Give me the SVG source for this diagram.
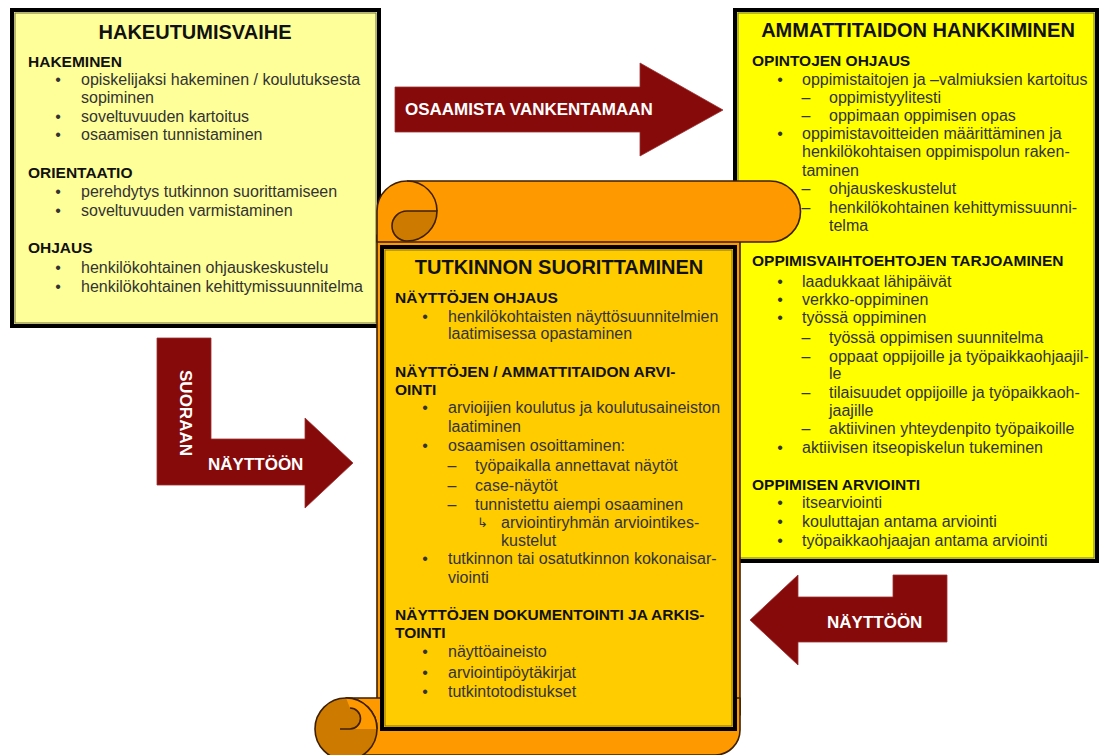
<svg xmlns="http://www.w3.org/2000/svg" width="1101" height="755" viewBox="0 0 1101 755">
<style>
text{font-family:"Liberation Sans",Arial,sans-serif}
.t{font-size:20px;font-weight:bold;fill:#111;text-anchor:middle}
.h{font-size:15.5px;font-weight:bold;fill:#111}
.b{font-size:16px;fill:#333}
.m{text-anchor:middle}
.g{font-family:"DejaVu Sans",sans-serif;font-size:13px;fill:#333}
.a{font-size:17px;font-weight:bold;fill:#fff}
.box{stroke:#000;stroke-width:4}
.inner{fill:none;stroke:#6f6f45;stroke-width:1}
.arrow{fill:#870a0a;stroke:#9a3030;stroke-width:0.8}
.scr{stroke:#3d1f00;stroke-width:1.6;stroke-linejoin:round}
</style>
<rect width="1101" height="755" fill="#fff"/>

<g id="hakeutumisvaihe">
<rect class="box" x="12" y="10" width="367" height="316" fill="#ffff99"/>
<rect class="inner" x="15" y="13" width="361" height="310"/>
<text class="t" x="195" y="39">HAKEUTUMISVAIHE</text>
<text class="h" x="28" y="67">HAKEMINEN</text>
<text class="b m" x="58" y="85">•</text><text class="b" x="81" y="85">opiskelijaksi hakeminen / koulutuksesta</text>
<text class="b" x="81" y="103">sopiminen</text>
<text class="b m" x="58" y="122">•</text><text class="b" x="81" y="122">soveltuvuuden kartoitus</text>
<text class="b m" x="58" y="140">•</text><text class="b" x="81" y="140">osaamisen tunnistaminen</text>
<text class="h" x="28" y="178">ORIENTAATIO</text>
<text class="b m" x="58" y="197">•</text><text class="b" x="81" y="197">perehdytys tutkinnon suorittamiseen</text>
<text class="b m" x="58" y="216">•</text><text class="b" x="81" y="216">soveltuvuuden varmistaminen</text>
<text class="h" x="28" y="253">OHJAUS</text>
<text class="b m" x="58" y="273">•</text><text class="b" x="81" y="273">henkilökohtainen ohjauskeskustelu</text>
<text class="b m" x="58" y="292">•</text><text class="b" x="81" y="292">henkilökohtainen kehittymissuunnitelma</text>
</g>

<g id="ammattitaidon-hankkiminen">
<rect class="box" x="735" y="10" width="362" height="551" fill="#ffff00"/>
<rect class="inner" x="738" y="13" width="356" height="545"/>
<text class="t" x="918" y="37">AMMATTITAIDON HANKKIMINEN</text>
<text class="h" x="752" y="66">OPINTOJEN OHJAUS</text>
<text class="b m" x="780" y="85">•</text><text class="b" x="802" y="85">oppimistaitojen ja –valmiuksien kartoitus</text>
<text class="b m" x="806" y="103">–</text><text class="b" x="829" y="103">oppimistyylitesti</text>
<text class="b m" x="806" y="121">–</text><text class="b" x="829" y="121">oppimaan oppimisen opas</text>
<text class="b m" x="780" y="139">•</text><text class="b" x="802" y="139">oppimistavoitteiden määrittäminen ja</text>
<text class="b" x="802" y="157">henkilökohtaisen oppimispolun raken-</text>
<text class="b" x="802" y="176">taminen</text>
<text class="b m" x="806" y="194">–</text><text class="b" x="829" y="194">ohjauskeskustelut</text>
<text class="b m" x="806" y="213">–</text><text class="b" x="829" y="213">henkilökohtainen kehittymissuunni-</text>
<text class="b" x="829" y="231">telma</text>
<text class="h" x="752" y="266">OPPIMISVAIHTOEHTOJEN TARJOAMINEN</text>
<text class="b m" x="780" y="287">•</text><text class="b" x="802" y="287">laadukkaat lähipäivät</text>
<text class="b m" x="780" y="305">•</text><text class="b" x="802" y="305">verkko-oppiminen</text>
<text class="b m" x="780" y="323">•</text><text class="b" x="802" y="323">työssä oppiminen</text>
<text class="b m" x="806" y="343">–</text><text class="b" x="829" y="343">työssä oppimisen suunnitelma</text>
<text class="b m" x="806" y="362">–</text><text class="b" x="829" y="362">oppaat oppijoille ja työpaikkaohjaajil-</text>
<text class="b" x="829" y="379">le</text>
<text class="b m" x="806" y="398">–</text><text class="b" x="829" y="398">tilaisuudet oppijoille ja työpaikkaoh-</text>
<text class="b" x="829" y="416">jaajille</text>
<text class="b m" x="806" y="434">–</text><text class="b" x="829" y="434">aktiivinen yhteydenpito työpaikoille</text>
<text class="b m" x="780" y="453">•</text><text class="b" x="802" y="453">aktiivisen itseopiskelun tukeminen</text>
<text class="h" x="752" y="490">OPPIMISEN ARVIOINTI</text>
<text class="b m" x="780" y="508">•</text><text class="b" x="802" y="508">itsearviointi</text>
<text class="b m" x="780" y="527">•</text><text class="b" x="802" y="527">kouluttajan antama arviointi</text>
<text class="b m" x="780" y="546">•</text><text class="b" x="802" y="546">työpaikkaohjaajan antama arviointi</text>
</g>

<g id="connectors">
<g id="arrow-osaamista">
<polygon class="arrow" points="395,87 640,87 640,63 723,110 640,156 640,132 395,132"/>
<text class="a" x="405" y="115">OSAAMISTA VANKENTAMAAN</text>
</g>
<g id="arrow-suoraan">
<polygon class="arrow" points="157,338 211,338 211,439 305,439 305,418 353,463 305,508 305,485 157,485"/>
<text class="a" text-anchor="middle" transform="translate(180,413) rotate(90)">SUORAAN</text>
<text class="a" x="208" y="470">NÄYTTÖÖN</text>
</g>
<g id="arrow-nayttoon">
<polygon class="arrow" points="750,620 798,575 798,597 893,597 893,575 947,575 947,642 798,642 798,665"/>
<text class="a" x="827" y="628">NÄYTTÖÖN</text>
</g>
</g>

<g id="tutkinnon-suorittaminen">
<rect class="scr" x="377" y="235" width="363" height="480" fill="#ff9900"/>
<path class="scr" d="M377,242 L377,211 A30,30 0 0 1 407,181 L770,181 A30.5,30.5 0 0 1 770,242 Z" fill="#ff9900"/>
<path class="scr" d="M407,181 A30,30 0 0 1 437,211" fill="none"/>
<path class="scr" d="M407,211 L437,211 A30,30 0 0 1 407,241 A15,15 0 0 1 407,211 Z" fill="#cc7a00"/>
<path class="scr" d="M346,698 H740 V730 A25,25 0 0 1 715,755 H346 Z" fill="#ff9900"/>
<circle class="scr" cx="346" cy="729" r="31" fill="#cc7a00"/>
<path d="M346,698 A31,31 0 0 1 377,729 L350,729 A10.5,10.5 0 0 0 350,708 Z" fill="#ff9900"/>
<path class="scr" d="M346,698 A31,31 0 0 1 377,729" fill="none"/>
<path class="scr" d="M340,729 L350,729 A10.5,10.5 0 0 0 350,708" fill="none"/>
<rect class="box" x="382" y="247" width="353" height="482" fill="#ffcc00"/>
<rect class="inner" x="385" y="250" width="347" height="476" style="stroke:#8a6a00"/>
<text class="t" x="559" y="274">TUTKINNON SUORITTAMINEN</text>
<text class="h" x="395" y="303">NÄYTTÖJEN OHJAUS</text>
<text class="b m" x="425" y="322">•</text><text class="b" x="448" y="322">henkilökohtaisten näyttösuunnitelmien</text>
<text class="b" x="448" y="339">laatimisessa opastaminen</text>
<text class="h" x="395" y="377">NÄYTTÖJEN / AMMATTITAIDON ARVI-</text>
<text class="h" x="395" y="395">OINTI</text>
<text class="b m" x="425" y="413">•</text><text class="b" x="448" y="413">arvioijien koulutus ja koulutusaineiston</text>
<text class="b" x="448" y="432">laatiminen</text>
<text class="b m" x="425" y="451">•</text><text class="b" x="448" y="451">osaamisen osoittaminen:</text>
<text class="b m" x="452" y="471">–</text><text class="b" x="475" y="471">työpaikalla annettavat näytöt</text>
<text class="b m" x="452" y="491">–</text><text class="b" x="475" y="491">case-näytöt</text>
<text class="b m" x="452" y="510">–</text><text class="b" x="475" y="510">tunnistettu aiempi osaaminen</text>
<text class="g" x="477" y="527">↳</text><text class="b" x="501" y="528">arviointiryhmän arviointikes-</text>
<text class="b" x="501" y="546">kustelut</text>
<text class="b m" x="425" y="564">•</text><text class="b" x="448" y="564">tutkinnon tai osatutkinnon kokonaisar-</text>
<text class="b" x="448" y="583">viointi</text>
<text class="h" x="395" y="620">NÄYTTÖJEN DOKUMENTOINTI JA ARKIS-</text>
<text class="h" x="395" y="638">TOINTI</text>
<text class="b m" x="425" y="657">•</text><text class="b" x="448" y="657">näyttöaineisto</text>
<text class="b m" x="425" y="678">•</text><text class="b" x="448" y="678">arviointipöytäkirjat</text>
<text class="b m" x="425" y="697">•</text><text class="b" x="448" y="697">tutkintotodistukset</text>
</g>
</svg>
